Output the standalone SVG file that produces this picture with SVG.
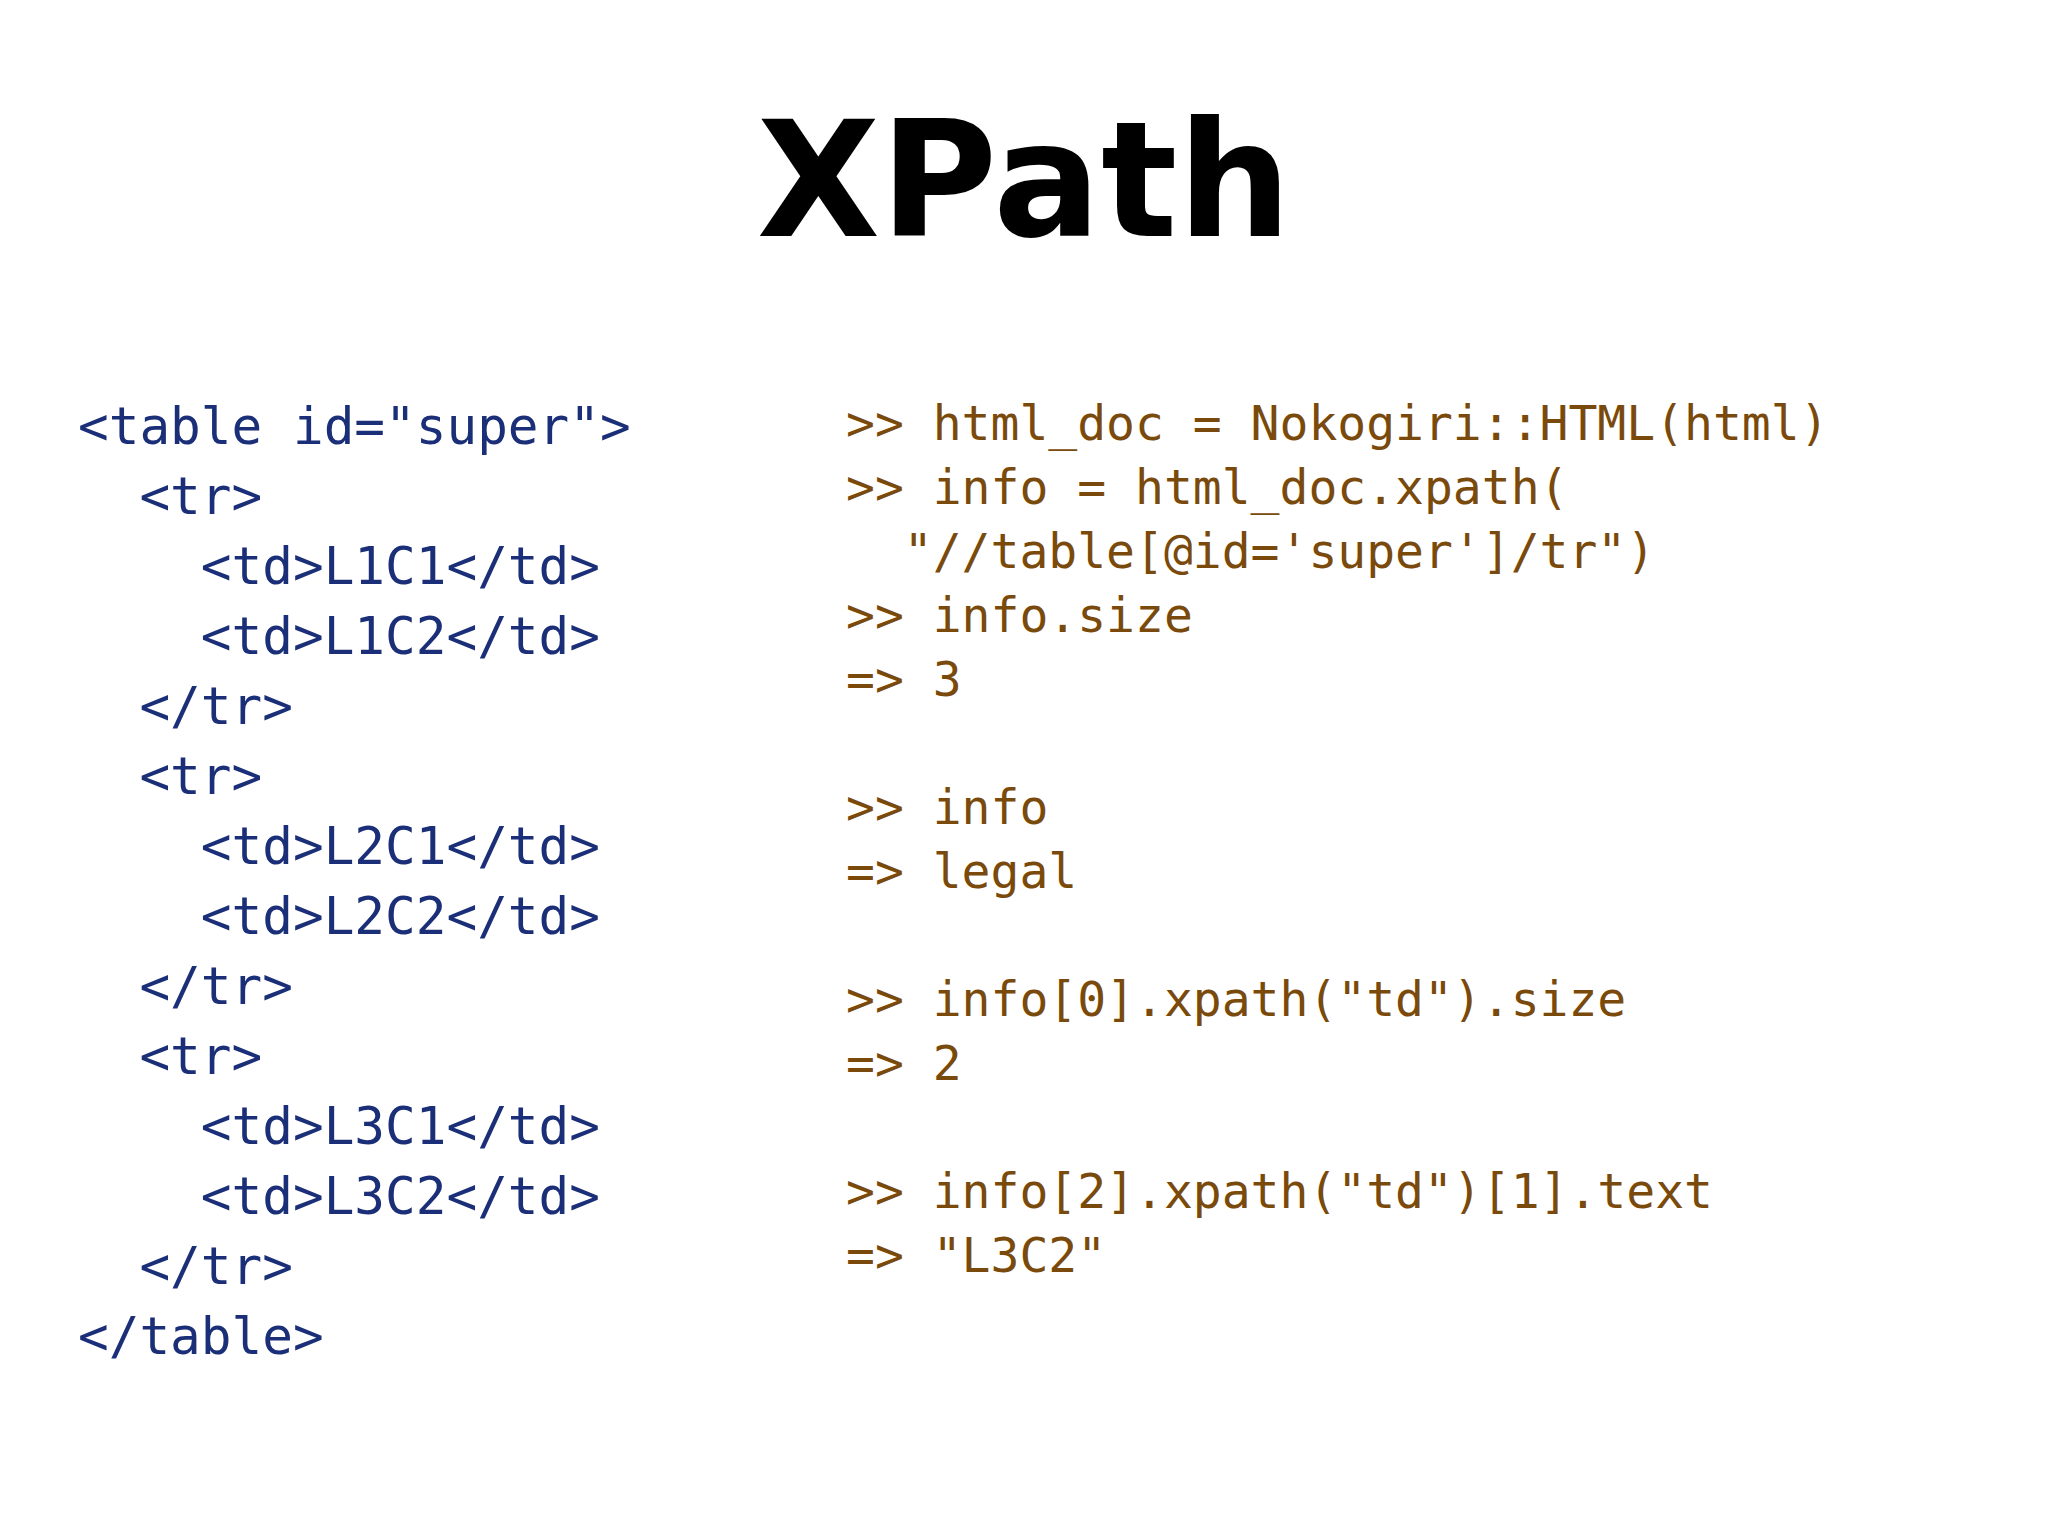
<svg xmlns="http://www.w3.org/2000/svg" width="2048" height="1536" viewBox="0 0 2048 1536">
<style>
.t{font-family:"DejaVu Sans",sans-serif;font-weight:900;font-size:160px;fill:#000}
.l{font-family:"DejaVu Sans Mono",monospace;font-size:51px;fill:#1b2f78;white-space:pre}
.r{font-family:"DejaVu Sans Mono",monospace;font-size:48px;fill:#7a4a0c;white-space:pre}
</style>
<rect width="2048" height="1536" fill="#fff"/>
<g id="title"><text class="t" x="1024" y="236" text-anchor="middle">XPath</text></g>
<g id="html">
<text class="l" x="78" y="444">&lt;table id="super"&gt;</text>
<text class="l" x="78" y="514">  &lt;tr&gt;</text>
<text class="l" x="78" y="584">    &lt;td&gt;L1C1&lt;/td&gt;</text>
<text class="l" x="78" y="654">    &lt;td&gt;L1C2&lt;/td&gt;</text>
<text class="l" x="78" y="724">  &lt;/tr&gt;</text>
<text class="l" x="78" y="794">  &lt;tr&gt;</text>
<text class="l" x="78" y="864">    &lt;td&gt;L2C1&lt;/td&gt;</text>
<text class="l" x="78" y="934">    &lt;td&gt;L2C2&lt;/td&gt;</text>
<text class="l" x="78" y="1004">  &lt;/tr&gt;</text>
<text class="l" x="78" y="1074">  &lt;tr&gt;</text>
<text class="l" x="78" y="1144">    &lt;td&gt;L3C1&lt;/td&gt;</text>
<text class="l" x="78" y="1214">    &lt;td&gt;L3C2&lt;/td&gt;</text>
<text class="l" x="78" y="1284">  &lt;/tr&gt;</text>
<text class="l" x="78" y="1354">&lt;/table&gt;</text>
</g>
<g id="ruby">
<text class="r" x="846" y="440">&gt;&gt; html_doc = Nokogiri::HTML(html)</text>
<text class="r" x="846" y="504">&gt;&gt; info = html_doc.xpath(</text>
<text class="r" x="846" y="568">  "//table[@id='super']/tr")</text>
<text class="r" x="846" y="632">&gt;&gt; info.size</text>
<text class="r" x="846" y="696">=&gt; 3</text>
<text class="r" x="846" y="824">&gt;&gt; info</text>
<text class="r" x="846" y="888">=&gt; legal</text>
<text class="r" x="846" y="1016">&gt;&gt; info[0].xpath("td").size</text>
<text class="r" x="846" y="1080">=&gt; 2</text>
<text class="r" x="846" y="1208">&gt;&gt; info[2].xpath("td")[1].text</text>
<text class="r" x="846" y="1272">=&gt; "L3C2"</text>
</g>
</svg>
